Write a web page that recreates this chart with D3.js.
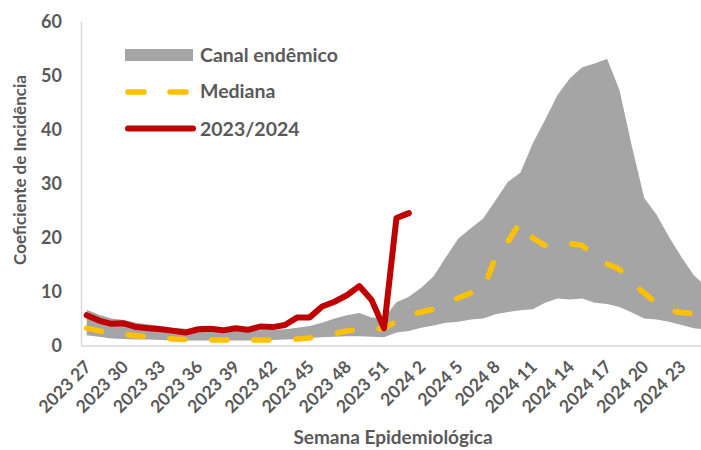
<!DOCTYPE html>
<html>
<head>
<meta charset="utf-8">
<script src="https://cdn.jsdelivr.net/npm/d3@7"></script>
<style>
  html, body { margin: 0; padding: 0; background: #fff; }
  svg { display: block; }
  text { font-family: Lato, "Open Sans", sans-serif; font-weight: 700; fill: #595959; }
</style>
</head>
<body>
<svg id="chart" width="701" height="450"></svg>
<script>
// ---- data ----
const weeks = [];
for (let w = 27; w <= 52; w++) weeks.push("2023 " + w);
for (let w = 1; w <= 26; w++) weeks.push("2024 " + w);

const tickLabels = ["2023 27","2023 30","2023 33","2023 36","2023 39","2023 42","2023 45","2023 48","2023 51",
  "2024 2","2024 5","2024 8","2024 11","2024 14","2024 17","2024 20","2024 23"];

const canalLower = [2.0,1.7,1.4,1.3,1.2,1.2,1.1,1.0,1.0,1.0,1.0,1.0,1.0,1.0,1.0,1.1,1.2,1.3,1.5,1.6,1.7,1.8,1.8,1.7,1.6,
  2.5,2.8,3.4,3.8,4.3,4.5,4.9,5.1,5.9,6.3,6.6,6.8,8.0,8.8,8.6,8.8,8.0,7.8,7.2,6.2,5.1,4.9,4.5,3.9,3.3,3.0,2.8];

const canalUpper = [6.7,5.8,5.1,4.8,4.3,4.0,3.7,3.4,3.2,3.0,3.0,2.9,2.9,2.9,2.9,3.0,3.1,3.4,3.7,4.3,5.1,5.7,6.1,5.3,5.2,
  8.1,9.1,10.8,12.9,16.5,19.9,21.8,23.6,27.0,30.4,32.1,37.5,41.9,46.5,49.6,51.6,52.3,53.2,47.4,37.0,27.4,24.3,20.2,16.5,13.1,11.0,9.5];

const mediana = [3.3,2.8,2.4,2.2,1.9,1.7,1.5,1.3,1.2,1.1,1.1,1.1,1.1,1.1,1.1,1.1,1.2,1.3,1.5,1.9,2.3,2.8,3.1,3.0,3.3,
  4.6,5.8,6.3,6.8,7.9,8.9,9.8,10.4,16.5,19.3,23.0,20.0,18.6,18.8,19.0,18.6,16.6,15.2,14.2,11.8,9.8,7.9,6.6,6.2,6.0,5.8,5.7];

const temporada = [5.7,4.7,4.1,4.2,3.5,3.3,3.1,2.8,2.5,3.1,3.2,2.9,3.3,3.0,3.6,3.5,3.9,5.3,5.3,7.3,8.2,9.4,11.1,8.5,3.3,23.7,24.6];

const yTicks = [0,10,20,30,40,50,60];

// ---- chart ----
const svg = d3.select("#chart");
const left = 80.5, step = 12.39;
const x = d3.scalePoint().domain(weeks).range([left, left + step * weeks.length]).padding(0.5);
const y = d3.scaleLinear().domain([0, 60]).range([346, 22]);

const canal = weeks.map((w, i) => ({w, lo: canalLower[i], hi: canalUpper[i]}));

svg.append("path")
  .datum(canal)
  .attr("fill", "#A5A5A5")
  .attr("d", d3.area().x(d => x(d.w)).y0(d => y(d.lo)).y1(d => y(d.hi)));

// axes lines
svg.append("line").attr("x1", 81.5).attr("x2", 81.5).attr("y1", 22).attr("y2", 346)
  .attr("stroke", "#D9D9D9").attr("stroke-width", 1.5);

const xAxis = svg.append("g").attr("transform", "translate(0,346)")
  .call(d3.axisBottom(x).tickValues(tickLabels).tickSize(0).tickSizeOuter(0));
xAxis.select(".domain").attr("stroke", "#D9D9D9").attr("stroke-width", 1.5)
  .attr("d", "M" + 81.5 + ",0H" + 760);
xAxis.selectAll("text")
  .attr("font-size", 17.5)
  .attr("text-anchor", "end")
  .attr("dy", null).attr("y", 0)
  .attr("transform", "translate(5,22) rotate(-45)");

const yAxis = svg.append("g").attr("transform", "translate(62,0)")
  .call(d3.axisLeft(y).tickValues(yTicks).tickSize(0));
yAxis.select(".domain").remove();
yAxis.selectAll("text").attr("font-size", 18).attr("x", 0).attr("text-anchor", "end");

// median
svg.append("path")
  .datum(mediana)
  .attr("fill", "none")
  .attr("stroke", "#FFC000")
  .attr("stroke-width", 5.5)
  .attr("stroke-linecap", "round")
  .attr("stroke-linejoin", "round")
  .attr("stroke-dasharray", "15,27")
  .attr("d", d3.line().x((d, i) => x(weeks[i])).y(d => y(d)));

// 2023/2024
svg.append("path")
  .datum(temporada)
  .attr("fill", "none")
  .attr("stroke", "#C00000")
  .attr("stroke-width", 6)
  .attr("stroke-linecap", "round")
  .attr("stroke-linejoin", "round")
  .attr("d", d3.line().x((d, i) => x(weeks[i])).y(d => y(d)));

// legend
const lg = svg.append("g");
lg.append("rect").attr("x", 125).attr("y", 49).attr("width", 68).attr("height", 12).attr("fill", "#A5A5A5");
lg.append("line").attr("x1", 128).attr("x2", 190).attr("y1", 92).attr("y2", 92)
  .attr("stroke", "#FFC000").attr("stroke-width", 5.5).attr("stroke-linecap", "round")
  .attr("stroke-dasharray", "16,26");
lg.append("line").attr("x1", 128).attr("x2", 193).attr("y1", 128.5).attr("y2", 128.5)
  .attr("stroke", "#C00000").attr("stroke-width", 6).attr("stroke-linecap", "round");
const legendItems = [["Canal endêmico", 55], ["Mediana", 91], ["2023/2024", 129.5]];
lg.selectAll("text.lg").data(legendItems).join("text").attr("class", "lg")
  .attr("x", 200).attr("y", d => d[1]).attr("dy", "0.35em").attr("font-size", 19.5)
  .text(d => d[0]);

// axis titles
svg.append("text")
  .attr("transform", "translate(26,170) rotate(-90)")
  .attr("text-anchor", "middle").attr("font-size", 17)
  .text("Coeficiente de Incidência");
svg.append("text")
  .attr("x", 393).attr("y", 444).attr("text-anchor", "middle").attr("font-size", 19)
  .text("Semana Epidemiológica");
</script>
</body>
</html>
